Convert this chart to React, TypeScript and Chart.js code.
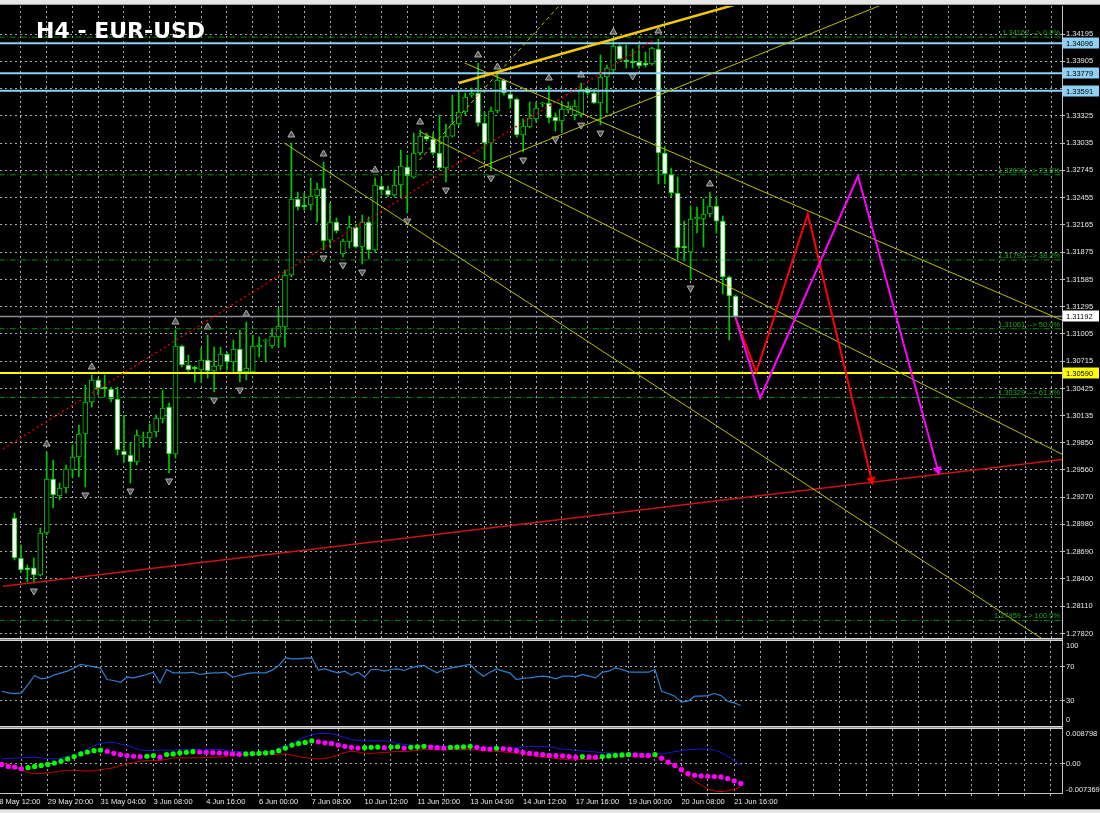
import React, { useEffect, useRef } from "react";
import { Chart, registerables } from "chart.js";
Chart.register(...registerables);

// ---------------- data ----------------
const timeLabels = [
  "28 May 12:00", "29 May 20:00", "31 May 04:00", "3 Jun 08:00", "4 Jun 16:00",
  "6 Jun 00:00", "7 Jun 08:00", "10 Jun 12:00", "11 Jun 20:00", "13 Jun 04:00",
  "14 Jun 12:00", "17 Jun 16:00", "19 Jun 00:00", "20 Jun 08:00", "21 Jun 16:00",
];
const barsPerTimeLabel = 8;
const firstBar = 1;

const openPrices = [
  1.29048, 1.28623, 1.28517, 1.28517, 1.28442, 1.28889, 1.29463, 1.29282, 1.29367, 1.29559,
  1.29697, 1.29941, 1.30282, 1.30516, 1.30441, 1.30420, 1.30314, 1.29761, 1.29718, 1.29644,
  1.29899, 1.29899, 1.29963, 1.30101, 1.30229, 1.29729, 1.30877, 1.30675, 1.30654, 1.30622,
  1.30728, 1.30611, 1.30665, 1.30792, 1.30707, 1.30845, 1.30601, 1.30601, 1.30867, 1.30930,
  1.30877, 1.30973, 1.31079, 1.31632, 1.32440, 1.32377, 1.32377, 1.32472, 1.32557, 1.32004,
  1.32196, 1.31856, 1.31983, 1.32143, 1.31930, 1.32196, 1.31898, 1.32579, 1.32536, 1.32483,
  1.32589, 1.32781, 1.32674, 1.32930, 1.33110, 1.33078, 1.32930, 1.32770, 1.33110, 1.33238,
  1.33366, 1.33546, 1.33568, 1.33249, 1.33036, 1.33376, 1.33706, 1.33557, 1.33504, 1.33121,
  1.33206, 1.33291, 1.33451, 1.33461, 1.33312, 1.33270, 1.33387, 1.33334, 1.33334, 1.33610,
  1.33568, 1.33461, 1.33738, 1.33812, 1.34067, 1.33919, 1.33908, 1.33897, 1.33887, 1.33876,
  1.34036, 1.32930, 1.32706, 1.32504, 1.31941, 1.31877, 1.32228, 1.32228, 1.32281, 1.32366,
  1.32206, 1.31611, 1.31409,
];
const highPrices = [
  1.29101, 1.28761, 1.28549, 1.28623, 1.28942, 1.29750, 1.29665, 1.29420, 1.29612, 1.29824,
  1.30037, 1.30462, 1.30569, 1.30537, 1.30569, 1.30441, 1.30441, 1.30143, 1.29846, 1.29984,
  1.29963, 1.30048, 1.30143, 1.30409, 1.30271, 1.31047, 1.30888, 1.30781, 1.30665, 1.30856,
  1.30994, 1.30867, 1.30867, 1.30813, 1.30941, 1.31047, 1.31132, 1.30994, 1.30973, 1.30952,
  1.31069, 1.31281, 1.31685, 1.33036, 1.32515, 1.32504, 1.32664, 1.32611, 1.32834, 1.32398,
  1.32238, 1.32015, 1.32260, 1.32164, 1.32270, 1.32249, 1.32664, 1.32664, 1.32579, 1.32749,
  1.32961, 1.32908, 1.33142, 1.33174, 1.33142, 1.33142, 1.33334, 1.33238, 1.33546, 1.33568,
  1.33568, 1.33621, 1.33887, 1.33366, 1.33419, 1.33759, 1.33717, 1.33568, 1.33514, 1.33291,
  1.33472, 1.33472, 1.33472, 1.33642, 1.33355, 1.33472, 1.33472, 1.33493, 1.33674, 1.33631,
  1.33610, 1.33972, 1.33865, 1.34131, 1.34078, 1.34078, 1.34036, 1.34078, 1.34004, 1.34057,
  1.34142, 1.32993, 1.32770, 1.32674, 1.32206, 1.32366, 1.32355, 1.32440, 1.32515, 1.32462,
  1.32260, 1.31622, 1.31420,
];
const lowPrices = [
  1.28602, 1.28474, 1.28368, 1.28357, 1.28430, 1.28870, 1.29155, 1.29240, 1.29314, 1.29474,
  1.29484, 1.29378, 1.30229, 1.30356, 1.30335, 1.30282, 1.29718, 1.29644, 1.29420, 1.29612,
  1.29803, 1.29803, 1.29910, 1.30058, 1.29527, 1.29686, 1.30654, 1.30601, 1.30494, 1.30494,
  1.30537, 1.30388, 1.30622, 1.30622, 1.30601, 1.30494, 1.30516, 1.30590, 1.30760, 1.30707,
  1.30856, 1.30867, 1.30867, 1.31611, 1.32323, 1.32323, 1.32323, 1.32196, 1.31898, 1.31930,
  1.32079, 1.31824, 1.31919, 1.31919, 1.31749, 1.31802, 1.31877, 1.32483, 1.32462, 1.32462,
  1.32462, 1.32292, 1.32664, 1.32908, 1.33057, 1.32908, 1.32749, 1.32621, 1.33100, 1.33217,
  1.33334, 1.33525, 1.33217, 1.32855, 1.32749, 1.33355, 1.33546, 1.33408, 1.33100, 1.32940,
  1.33195, 1.33259, 1.33419, 1.33249, 1.33164, 1.33153, 1.33355, 1.33281, 1.33312, 1.33546,
  1.33451, 1.33227, 1.33355, 1.33791, 1.33919, 1.33833, 1.33833, 1.33833, 1.33844, 1.33865,
  1.32600, 1.32600, 1.32462, 1.31792, 1.31781, 1.31579, 1.32079, 1.31930, 1.32249, 1.32079,
  1.31430, 1.30941, 1.31154,
];
const closePrices = [
  1.28623, 1.28496, 1.28496, 1.28442, 1.28889, 1.29463, 1.29293, 1.29367, 1.29569, 1.29697,
  1.29941, 1.30282, 1.30516, 1.30431, 1.30420, 1.30314, 1.29771, 1.29718, 1.29644, 1.29931,
  1.29910, 1.29963, 1.30112, 1.30218, 1.29729, 1.30877, 1.30675, 1.30622, 1.30633, 1.30728,
  1.30611, 1.30665, 1.30792, 1.30707, 1.30845, 1.30601, 1.30643, 1.30877, 1.30888, 1.30941,
  1.30984, 1.31090, 1.31632, 1.32440, 1.32355, 1.32355, 1.32472, 1.32547, 1.31994, 1.32196,
  1.32100, 1.31994, 1.32143, 1.31930, 1.32196, 1.31898, 1.32589, 1.32536, 1.32483, 1.32589,
  1.32791, 1.32685, 1.32930, 1.33110, 1.33078, 1.32930, 1.32770, 1.33110, 1.33238, 1.33366,
  1.33525, 1.33568, 1.33249, 1.33036, 1.33376, 1.33706, 1.33568, 1.33504, 1.33121, 1.33217,
  1.33302, 1.33408, 1.33461, 1.33302, 1.33270, 1.33397, 1.33429, 1.33429, 1.33610, 1.33568,
  1.33461, 1.33738, 1.33833, 1.34067, 1.33929, 1.33897, 1.33887, 1.33855, 1.33865, 1.34046,
  1.32930, 1.32706, 1.32504, 1.31919, 1.31919, 1.32228, 1.32249, 1.32281, 1.32366, 1.32206,
  1.31611, 1.31409, 1.31192,
];

const fractalUpBars = [6, 13, 26, 31, 37, 44, 49, 57, 64, 73, 76, 84, 89, 94, 101, 109];
const fractalDownBars = [4, 12, 19, 25, 32, 36, 49, 52, 55, 62, 68, 75, 80, 85, 89, 92, 97, 106];

const priceTicks = [
  1.27820, 1.28110, 1.28400, 1.28690, 1.28980, 1.29270, 1.29560, 1.29850, 1.30135, 1.30425,
  1.30715, 1.31005, 1.31295, 1.31585, 1.31875, 1.32165, 1.32455, 1.32745, 1.33035, 1.33325,
  1.33615, 1.33905, 1.34195,
];

const fibPrices = [1.34162, 1.32698, 1.31792, 1.31061, 1.30329, 1.27959];
const fibNames = ["0.0%", "23.6%", "38.2%", "50.0%", "61.8%", "100.0%"];
const resistanceLevels = [1.34096, 1.33779, 1.33591];
const supportLevel = 1.30590;
const lastPrice = 1.31192;

// trend lines: [bar, price] anchor pairs
const trendDownA = [[42.9, 1.33036], [167.4, 1.27459]];
const trendDownB = [[64.1, 1.33153], [167.4, 1.29599]];
const trendDownC = [[70.9, 1.33887], [167.4, 1.31042]];
const channelUpper = [[70.0, 1.33674], [122.0, 1.34684]];
const channelLower = [[73.0, 1.32767], [140.2, 1.34631]];
const fanLine = [[63.9, 1.32855], [86.4, 1.34557]];
const redDottedTrend = [[-0.8, 1.29782], [100.3, 1.34131]];
const redSupportTrend = [[-0.8, 1.28323], [167.4, 1.29702]];
const projectionRed = [[113.0, 1.31175], [116.2, 1.30601], [124.2, 1.32281], [134.1, 1.29452]];
const projectionMagenta = [[113.0, 1.31175], [116.8, 1.30324], [132.0, 1.32685], [144.4, 1.29559]];

const rsiValues = [
  40.9, 39.0, 38.2, 39.0, 48.8, 59.4, 55.5, 56.6, 60.2, 62.5,
  64.5, 68.4, 72.4, 71.2, 69.6, 68.0, 54.7, 53.5, 51.5, 57.4,
  56.6, 58.6, 60.6, 63.3, 50.7, 66.5, 62.5, 62.5, 62.5, 63.3,
  60.6, 61.7, 62.5, 62.5, 63.3, 57.4, 59.4, 61.7, 62.5, 62.5,
  62.5, 65.7, 71.2, 80.2, 79.0, 79.0, 79.8, 80.2, 65.7, 67.2,
  64.5, 62.5, 64.5, 59.8, 63.3, 57.8, 66.5, 66.5, 64.5, 66.5,
  67.2, 65.3, 68.4, 70.4, 71.2, 66.5, 62.5, 66.5, 68.0, 69.6,
  71.2, 72.4, 64.5, 58.6, 63.3, 67.2, 64.5, 62.5, 54.7, 56.3,
  56.6, 57.8, 58.6, 57.8, 55.5, 58.6, 58.6, 57.8, 60.6, 58.6,
  56.6, 63.3, 64.5, 68.4, 66.5, 63.7, 63.3, 63.3, 63.3, 66.5,
  40.9, 38.2, 35.1, 28.0, 29.2, 35.1, 35.1, 35.8, 38.2, 35.8,
  29.2, 27.3, 24.1,
];

const macdValues = [
  -0.00016, -0.00065, -0.00082, -0.00124, -0.00098, -0.00065, -0.00040, -0.00016, 0.00018, 0.00067,
  0.00125, 0.00183, 0.00250, 0.00299, 0.00333, 0.00349, 0.00316, 0.00266, 0.00233, 0.00208,
  0.00192, 0.00183, 0.00192, 0.00208, 0.00167, 0.00233, 0.00250, 0.00275, 0.00291, 0.00308,
  0.00299, 0.00291, 0.00283, 0.00275, 0.00266, 0.00250, 0.00241, 0.00250, 0.00258, 0.00266,
  0.00275, 0.00291, 0.00333, 0.00399, 0.00474, 0.00515, 0.00540, 0.00581, 0.00556, 0.00532,
  0.00515, 0.00474, 0.00441, 0.00416, 0.00399, 0.00407, 0.00416, 0.00424, 0.00407, 0.00424,
  0.00432, 0.00399, 0.00416, 0.00432, 0.00441, 0.00424, 0.00407, 0.00399, 0.00416, 0.00424,
  0.00432, 0.00441, 0.00416, 0.00382, 0.00374, 0.00391, 0.00382, 0.00366, 0.00333, 0.00291,
  0.00266, 0.00250, 0.00233, 0.00216, 0.00208, 0.00200, 0.00183, 0.00167, 0.00183, 0.00175,
  0.00167, 0.00183, 0.00200, 0.00216, 0.00225, 0.00233, 0.00225, 0.00216, 0.00208, 0.00233,
  0.00142, 0.00042, -0.00040, -0.00148, -0.00248, -0.00289, -0.00306, -0.00314, -0.00322, -0.00331,
  -0.00372, -0.00430, -0.00496,
];
const macdTrend =
  "mmmmggggggggggggmmmmmmggmgggggmmmmmmmgggggggggggmmmmmmmgggmggmgggmmmggggmmmgmmmmmmmmmmmmgmmgggggmmmgmmmmmmmmmmmmm".split("");
const macdUpper = [
  0.00125, 0.00134, 0.00142, 0.00150, 0.00158, 0.00167, 0.00150, 0.00134, 0.00125, 0.00150,
  0.00183, 0.00233, 0.00291, 0.00374, 0.00457, 0.00515, 0.00532, 0.00540, 0.00499, 0.00457,
  0.00407, 0.00349, 0.00341, 0.00333, 0.00341, 0.00349, 0.00349, 0.00358, 0.00366, 0.00366,
  0.00366, 0.00366, 0.00358, 0.00358, 0.00349, 0.00316, 0.00308, 0.00291, 0.00291, 0.00299,
  0.00308, 0.00316, 0.00399, 0.00449, 0.00515, 0.00606, 0.00681, 0.00731, 0.00764, 0.00764,
  0.00764, 0.00714, 0.00664, 0.00614, 0.00590, 0.00581, 0.00581, 0.00581, 0.00581, 0.00556,
  0.00515, 0.00490, 0.00474, 0.00457, 0.00449, 0.00449, 0.00441, 0.00441, 0.00432, 0.00424,
  0.00416, 0.00416, 0.00416, 0.00416, 0.00407, 0.00407, 0.00399, 0.00399, 0.00407, 0.00424,
  0.00441, 0.00441, 0.00432, 0.00432, 0.00399, 0.00374, 0.00358, 0.00341, 0.00324, 0.00316,
  0.00299, 0.00283, 0.00275, 0.00275, 0.00266, 0.00266, 0.00258, 0.00258, 0.00250, 0.00250,
  0.00250, 0.00275, 0.00308, 0.00333, 0.00358, 0.00366, 0.00374, 0.00374, 0.00349, 0.00283,
  0.00192, 0.00076, -0.00040,
];
const macdLower = [
  0.00026, -0.00016, -0.00065, -0.00148, -0.00215, -0.00248, -0.00239, -0.00231, -0.00206, -0.00181,
  -0.00165, -0.00165, -0.00173, -0.00181, -0.00173, -0.00148, -0.00124, -0.00098, -0.00049, 0.00001,
  0.00034, 0.00067, 0.00076, 0.00084, 0.00084, 0.00117, 0.00150, 0.00150, 0.00150, 0.00150,
  0.00150, 0.00158, 0.00167, 0.00175, 0.00183, 0.00225, 0.00233, 0.00233, 0.00233, 0.00233,
  0.00233, 0.00233, 0.00241, 0.00250, 0.00216, 0.00183, 0.00158, 0.00134, 0.00125, 0.00142,
  0.00167, 0.00233, 0.00283, 0.00316, 0.00299, 0.00266, 0.00266, 0.00275, 0.00283, 0.00299,
  0.00316, 0.00308, 0.00324, 0.00349, 0.00358, 0.00358, 0.00358, 0.00358, 0.00358, 0.00358,
  0.00358, 0.00358, 0.00349, 0.00333, 0.00324, 0.00316, 0.00299, 0.00291, 0.00266, 0.00233,
  0.00208, 0.00192, 0.00175, 0.00158, 0.00134, 0.00117, 0.00100, 0.00100, 0.00109, 0.00117,
  0.00125, 0.00142, 0.00158, 0.00167, 0.00175, 0.00183, 0.00183, 0.00183, 0.00183, 0.00183,
  0.00142, 0.00067, -0.00040, -0.00165, -0.00306, -0.00430, -0.00538, -0.00629, -0.00687, -0.00704,
  -0.00679, -0.00637, -0.00596,
];
const macdMax = 0.008798;
const macdMin = -0.007369;

// ---------------- view settings ----------------
const X_MIN = 0.758;
const X_MAX = 161.67;
const PRICE_MIN = 1.27772;
const PRICE_MAX = 1.34493;
const GRID_COLOR = "#a3a9b3";
const GRID_DASH = [2, 3];
const AXIS_COLOR = "#c4c4c4";
const TEXT_COLOR = "#e8e8e8";
const FONT_FAMILY = "'Liberation Sans', Arial, sans-serif";
const TICK_FONT = { family: FONT_FAMILY, size: 7.5 };
const CANDLE_GREEN = "#00c800";
const FRACTAL_GAP = 0.00085;

const pts = (arr: number[][]) => arr.map(([x, y]) => ({ x, y }));
const barX = (k: number) => firstBar + k;

function makeXAxis(showLabels: boolean): any {
  return {
    type: "linear",
    min: X_MIN,
    max: X_MAX,
    afterBuildTicks: (s: any) => {
      const t: any[] = [];
      for (let v = 0; v <= X_MAX; v += barsPerTimeLabel / 2) t.push({ value: v });
      s.ticks = t;
    },
    afterFit: (s: any) => {
      s.height = showLabels ? 20 : 0;
      s.paddingLeft = 0;
      s.paddingRight = 0;
    },
    grid: {
      color: GRID_COLOR,
      lineWidth: 1,
      drawTicks: showLabels,
      tickLength: 3,
      tickColor: AXIS_COLOR,
      tickBorderDash: [],
    },
    border: { display: showLabels, color: AXIS_COLOR, dash: GRID_DASH },
    ticks: {
      display: showLabels,
      autoSkip: false,
      maxRotation: 0,
      minRotation: 0,
      align: "start",
      padding: 1,
      color: TEXT_COLOR,
      font: TICK_FONT,
      callback: (v: number) => {
        const k = v / barsPerTimeLabel;
        return Number.isInteger(k) && k < timeLabels.length ? timeLabels[k] : "";
      },
    },
  };
}

function makeYAxis(min: number, max: number, ticks: number[], fmt: (v: number) => string): any {
  return {
    position: "right",
    min,
    max,
    afterBuildTicks: (s: any) => {
      s.ticks = ticks.map((v) => ({ value: v }));
    },
    afterFit: (s: any) => {
      s.width = 38;
      s.paddingTop = 0;
      s.paddingBottom = 0;
    },
    grid: {
      color: GRID_COLOR,
      lineWidth: 1,
      drawTicks: true,
      tickLength: 3,
      tickColor: AXIS_COLOR,
      tickBorderDash: [],
    },
    border: { display: true, color: AXIS_COLOR, dash: GRID_DASH },
    ticks: { color: TEXT_COLOR, padding: 1, font: TICK_FONT, callback: fmt },
  };
}

const baseOptions = (padTop: number): any => ({
  responsive: false,
  animation: false,
  devicePixelRatio: 1,
  events: [],
  layout: { autoPadding: false, padding: { top: padTop, left: 0, right: 0, bottom: 0 } },
  plugins: { legend: { display: false }, tooltip: { enabled: false }, title: { display: false } },
});

function lineDs(data: any[], color: string, width: number, dash: number[] = [], order = 5): any {
  return {
    type: "line",
    data,
    borderColor: color,
    borderWidth: width,
    borderDash: dash,
    pointRadius: 0,
    fill: false,
    tension: 0,
    clip: 0,
    order,
  };
}

function arrowDs(path: number[][], color: string): any {
  const data = pts(path);
  return {
    type: "line",
    data,
    borderColor: color,
    backgroundColor: color,
    borderWidth: 2,
    fill: false,
    tension: 0,
    clip: 0,
    order: 1,
    pointStyle: "triangle",
    pointBorderWidth: 0,
    pointBackgroundColor: color,
    pointRadius: (ctx: any) => (ctx.dataIndex === data.length - 1 ? 5.5 : 0),
    pointRotation: (ctx: any) => {
      const n = data.length;
      if (ctx.dataIndex !== n - 1) return 0;
      const xs = ctx.chart.scales.x;
      const ys = ctx.chart.scales.y;
      const a = data[n - 2];
      const b = data[n - 1];
      const dx = xs.getPixelForValue(b.x) - xs.getPixelForValue(a.x);
      const dy = ys.getPixelForValue(b.y) - ys.getPixelForValue(a.y);
      return (Math.atan2(dy, dx) * 180) / Math.PI + 90;
    },
  };
}

function hLine(value: number, color: string, width: number, dash: number[] = [], order = 6) {
  return lineDs([{ x: -10, y: value }, { x: 200, y: value }], color, width, dash, order);
}

const mainOverlay = {
  id: "mainOverlay",
  afterDatasetsDraw(chart: any) {
    const { ctx, chartArea, scales } = chart;
    ctx.save();
    ctx.font = `7.5px ${FONT_FAMILY}`;
    ctx.fillStyle = "#1fa51f";
    ctx.textAlign = "right";
    ctx.textBaseline = "bottom";
    fibPrices.forEach((p, k) => {
      ctx.fillText(`${p.toFixed(5)} --> ${fibNames[k]}`, chartArea.right - 2, scales.y.getPixelForValue(p) - 0.5);
    });
    ctx.restore();
  },
  afterDraw(chart: any) {
    const { ctx, chartArea, scales } = chart;
    const tags = [
      ...resistanceLevels.map((v) => ({ v, bg: "#8fd0f5" })),
      { v: lastPrice, bg: "#ffffff" },
      { v: supportLevel, bg: "#ffff00" },
    ];
    ctx.save();
    ctx.font = `7.5px ${FONT_FAMILY}`;
    ctx.textAlign = "left";
    ctx.textBaseline = "middle";
    tags.forEach((t) => {
      const y = Math.round(scales.y.getPixelForValue(t.v));
      ctx.fillStyle = t.bg;
      ctx.fillRect(chartArea.right + 1, y - 5.5, 36, 11);
      ctx.fillStyle = "#000000";
      ctx.fillText(t.v.toFixed(5), chartArea.right + 4, y + 0.5);
    });
    ctx.restore();
  },
};

function edgeLabels(items: { value: number; text: string; dy: number }[]) {
  return {
    id: "edgeLabels",
    afterDraw(chart: any) {
      const { ctx, chartArea, scales } = chart;
      ctx.save();
      ctx.font = `7.5px ${FONT_FAMILY}`;
      ctx.fillStyle = TEXT_COLOR;
      ctx.textAlign = "left";
      ctx.textBaseline = "middle";
      items.forEach((it) => ctx.fillText(it.text, chartArea.right + 4, scales.y.getPixelForValue(it.value) + it.dy));
      ctx.restore();
    },
  };
}

function buildMain(canvas: HTMLCanvasElement) {
  const wicks = highPrices.map((h, k) => ({ x: barX(k), y: [lowPrices[k], h] }));
  const bodies = openPrices.map((o, k) => ({ x: barX(k), y: [o, closePrices[k]] }));
  const upMarks = fractalUpBars.map((b) => ({ x: b, y: highPrices[b - firstBar] + FRACTAL_GAP }));
  const downMarks = fractalDownBars.map((b) => ({ x: b, y: lowPrices[b - firstBar] - FRACTAL_GAP }));
  const marker = (data: any[], rot: number): any => ({
    type: "line",
    data,
    showLine: false,
    pointStyle: "triangle",
    pointRadius: 4,
    pointRotation: rot,
    pointBackgroundColor: "#555555",
    pointBorderColor: "#b0b0b0",
    pointBorderWidth: 1,
    clip: 0,
    order: 8,
  });

  const datasets: any[] = [
    arrowDs(projectionMagenta, "#ff00ff"),
    arrowDs(projectionRed, "#ff0000"),
    lineDs(pts(channelUpper), "#f2c800", 2.5, [], 3),
    lineDs(pts(channelLower), "#bdbd00", 1, [], 4),
    lineDs(pts(trendDownA), "#bdbd00", 1, [], 4),
    lineDs(pts(trendDownB), "#bdbd00", 1, [], 4),
    lineDs(pts(trendDownC), "#bdbd00", 1, [], 4),
    lineDs(pts(fanLine), "#bdbd00", 1, [4, 3], 4),
    lineDs(pts(redDottedTrend), "#d00000", 1.5, [2, 3], 4),
    lineDs(pts(redSupportTrend), "#c81414", 1.5, [], 4),
    ...resistanceLevels.map((v) => hLine(v, "#8fd0f5", 2)),
    hLine(supportLevel, "#ffff00", 2),
    hLine(lastPrice, "#8c8c96", 1.5),
    ...fibPrices.map((v) => hLine(v, "#0a8a0a", 1, [6, 2, 1, 2], 7)),
    marker(upMarks, 0),
    marker(downMarks, 180),
    {
      type: "bar",
      data: bodies,
      grouped: false,
      barThickness: 5,
      minBarLength: 1,
      borderSkipped: false,
      borderWidth: 1,
      borderColor: CANDLE_GREEN,
      backgroundColor: (ctx: any) => {
        const r = ctx.raw;
        return r && r.y[1] < r.y[0] ? "#ffffff" : "#000000";
      },
      order: 9,
    },
    {
      type: "bar",
      data: wicks,
      grouped: false,
      barThickness: 1,
      borderWidth: 0,
      backgroundColor: CANDLE_GREEN,
      order: 10,
    },
  ];

  return new Chart(canvas, {
    type: "bar",
    data: { datasets },
    options: {
      ...baseOptions(6),
      scales: {
        x: makeXAxis(false),
        y: makeYAxis(PRICE_MIN, PRICE_MAX, priceTicks, (v: number) => Number(v).toFixed(5)),
      },
    },
    plugins: [mainOverlay],
  } as any);
}

function buildRsi(canvas: HTMLCanvasElement) {
  return new Chart(canvas, {
    type: "line",
    data: {
      datasets: [
        {
          data: rsiValues.map((v, k) => ({ x: barX(k), y: v })),
          borderColor: "#2f7fd0",
          borderWidth: 1.2,
          pointRadius: 0,
          tension: 0,
          fill: false,
        },
      ],
    },
    options: {
      ...baseOptions(0),
      scales: {
        x: makeXAxis(false),
        y: makeYAxis(0, 100, [30, 70], (v: number) => String(v)),
      },
    },
    plugins: [
      edgeLabels([
        { value: 100, text: "100", dy: 5 },
        { value: 0, text: "0", dy: -6 },
      ]),
    ],
  } as any);
}

function buildMacd(canvas: HTMLCanvasElement) {
  return new Chart(canvas, {
    type: "line",
    data: {
      datasets: [
        {
          data: macdValues.map((v, k) => ({ x: barX(k), y: v })),
          showLine: false,
          pointRadius: 2.6,
          pointBorderWidth: 0,
          pointBackgroundColor: macdTrend.map((c) => (c === "g" ? "#00ff00" : "#ff00ff")),
          order: 1,
        },
        {
          data: macdUpper.map((v, k) => ({ x: barX(k), y: v })),
          borderColor: "#1818d8",
          borderWidth: 1,
          pointRadius: 0,
          tension: 0.3,
          fill: false,
          order: 2,
        },
        {
          data: macdLower.map((v, k) => ({ x: barX(k), y: v })),
          borderColor: "#c80000",
          borderWidth: 1,
          pointRadius: 0,
          tension: 0.3,
          fill: false,
          order: 2,
        },
      ],
    },
    options: {
      ...baseOptions(0),
      scales: {
        x: makeXAxis(true),
        y: makeYAxis(macdMin, macdMax, [0], () => "0.00"),
      },
    },
    plugins: [
      edgeLabels([
        { value: macdMax, text: macdMax.toFixed(6), dy: 5 },
        { value: macdMin, text: macdMin.toFixed(6), dy: -3 },
      ]),
    ],
  } as any);
}

export default function App() {
  const mainRef = useRef<HTMLCanvasElement>(null);
  const rsiRef = useRef<HTMLCanvasElement>(null);
  const macdRef = useRef<HTMLCanvasElement>(null);

  useEffect(() => {
    const charts = [
      buildMain(mainRef.current as HTMLCanvasElement),
      buildRsi(rsiRef.current as HTMLCanvasElement),
      buildMacd(macdRef.current as HTMLCanvasElement),
    ];
    return () => charts.forEach((c) => c.destroy());
  }, []);

  const sep: React.CSSProperties = {
    position: "absolute",
    left: 0,
    width: 1063,
    height: 1,
    background: "#8a8a8a",
    borderTop: "1px solid #d6d6d6",
    borderBottom: "1px solid #d6d6d6",
  };

  return (
    <div
      style={{
        position: "fixed",
        left: 0,
        top: 0,
        width: 1100,
        height: 813,
        background: "#000",
        overflow: "hidden",
      }}
    >
      <canvas ref={mainRef} width={1100} height={638} style={{ position: "absolute", left: 0, top: 0, display: "block" }} />
      <canvas ref={rsiRef} width={1100} height={85} style={{ position: "absolute", left: 0, top: 641, display: "block" }} />
      <canvas ref={macdRef} width={1100} height={84} style={{ position: "absolute", left: 0, top: 729, display: "block" }} />
      <div style={{ position: "absolute", left: 0, top: 0, width: 1100, height: 4, background: "#e6e6e6", borderBottom: "1px solid #a0a0a0" }} />
      <div style={{ ...sep, top: 638 }} />
      <div style={{ ...sep, top: 726 }} />
      <div style={{ position: "absolute", left: 0, top: 809, width: 1100, height: 4, background: "#e6e6e6", borderTop: "1px solid #a0a0a0" }} />
      <div
        style={{
          position: "absolute",
          left: 36,
          top: 20,
          color: "#ffffff",
          fontFamily: "'DejaVu Sans', sans-serif",
          fontWeight: "bold",
          fontSize: 22,
          lineHeight: "22px",
          whiteSpace: "nowrap",
        }}
      >
        H4 - EUR-USD
      </div>
    </div>
  );
}
